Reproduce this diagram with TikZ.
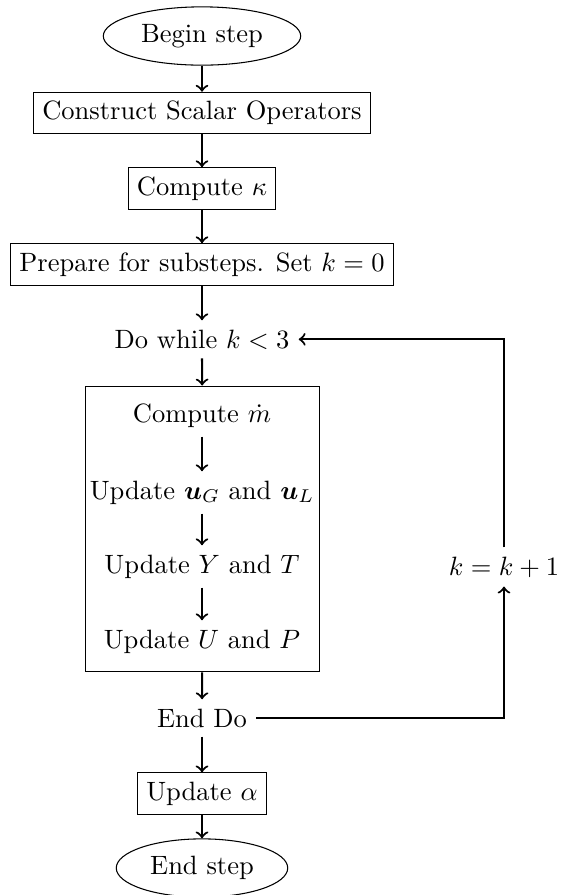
\documentclass[tikz,border=0pt]{standalone}
\usepackage{bm}
\usetikzlibrary{shapes.geometric}
\tikzset{
  term/.style={ellipse, draw, thin},
  proc/.style={rectangle, draw, thin},
  txt/.style={inner sep=3.33pt},
  loopbox/.style={rectangle, draw, thin, minimum width=88.05pt, minimum height=107.9pt, inner sep=0pt},
  arr/.style={->, thick}
}
\begin{document}
\begin{tikzpicture}[x=0.3774pt,y=-0.3774pt]
\useasboundingbox (0,0) rectangle (561,895);
\node[term] (begin) at (202,36) {Begin step};
\node[proc] (cons) at (202,113) {Construct Scalar Operators};
\node[proc] (kap) at (202,188.5) {Compute $\kappa$};
\node[proc] (prep) at (202,264.5) {Prepare for substeps. Set $k=0$};
\node[txt, anchor=base] (dow) at (202,348) {Do while $k<3$};
\node[loopbox] (loop) at (202.5,529) {};
\node[txt, anchor=base] (cm) at (202,422) {Compute $\dot{m}$};
\node[txt, anchor=base] (uu) at (202,499) {Update $\bm{u}_G$ and $\bm{u}_L$};
\node[txt, anchor=base] (yt) at (202,573) {Update $Y$ and $T$};
\node[txt, anchor=base] (up) at (202,648) {Update $U$ and $P$};
\node[txt, anchor=base] (enddo) at (202,727) {End Do};
\node[proc] (alpha) at (202,793.5) {Update $\alpha$};
\node[term] (end) at (202,868) {End step};
\node[txt, anchor=base] (kk) at (504,575) {$k=k+1$};
\draw[arr] (begin) -- (cons);
\draw[arr] (cons) -- (kap);
\draw[arr] (kap) -- (prep);
\draw[arr] (prep) -- (dow);
\draw[arr] (dow) -- (loop);
\draw[arr] (cm) -- (uu);
\draw[arr] (uu) -- (yt);
\draw[arr] (yt) -- (up);
\draw[arr] (loop) -- (enddo);
\draw[arr] (enddo) -- (alpha);
\draw[arr] (alpha) -- (end);
\draw[arr] (enddo.east) -| (kk.south);
\draw[arr] (kk.north) |- (dow.east);
\end{tikzpicture}
\end{document}
